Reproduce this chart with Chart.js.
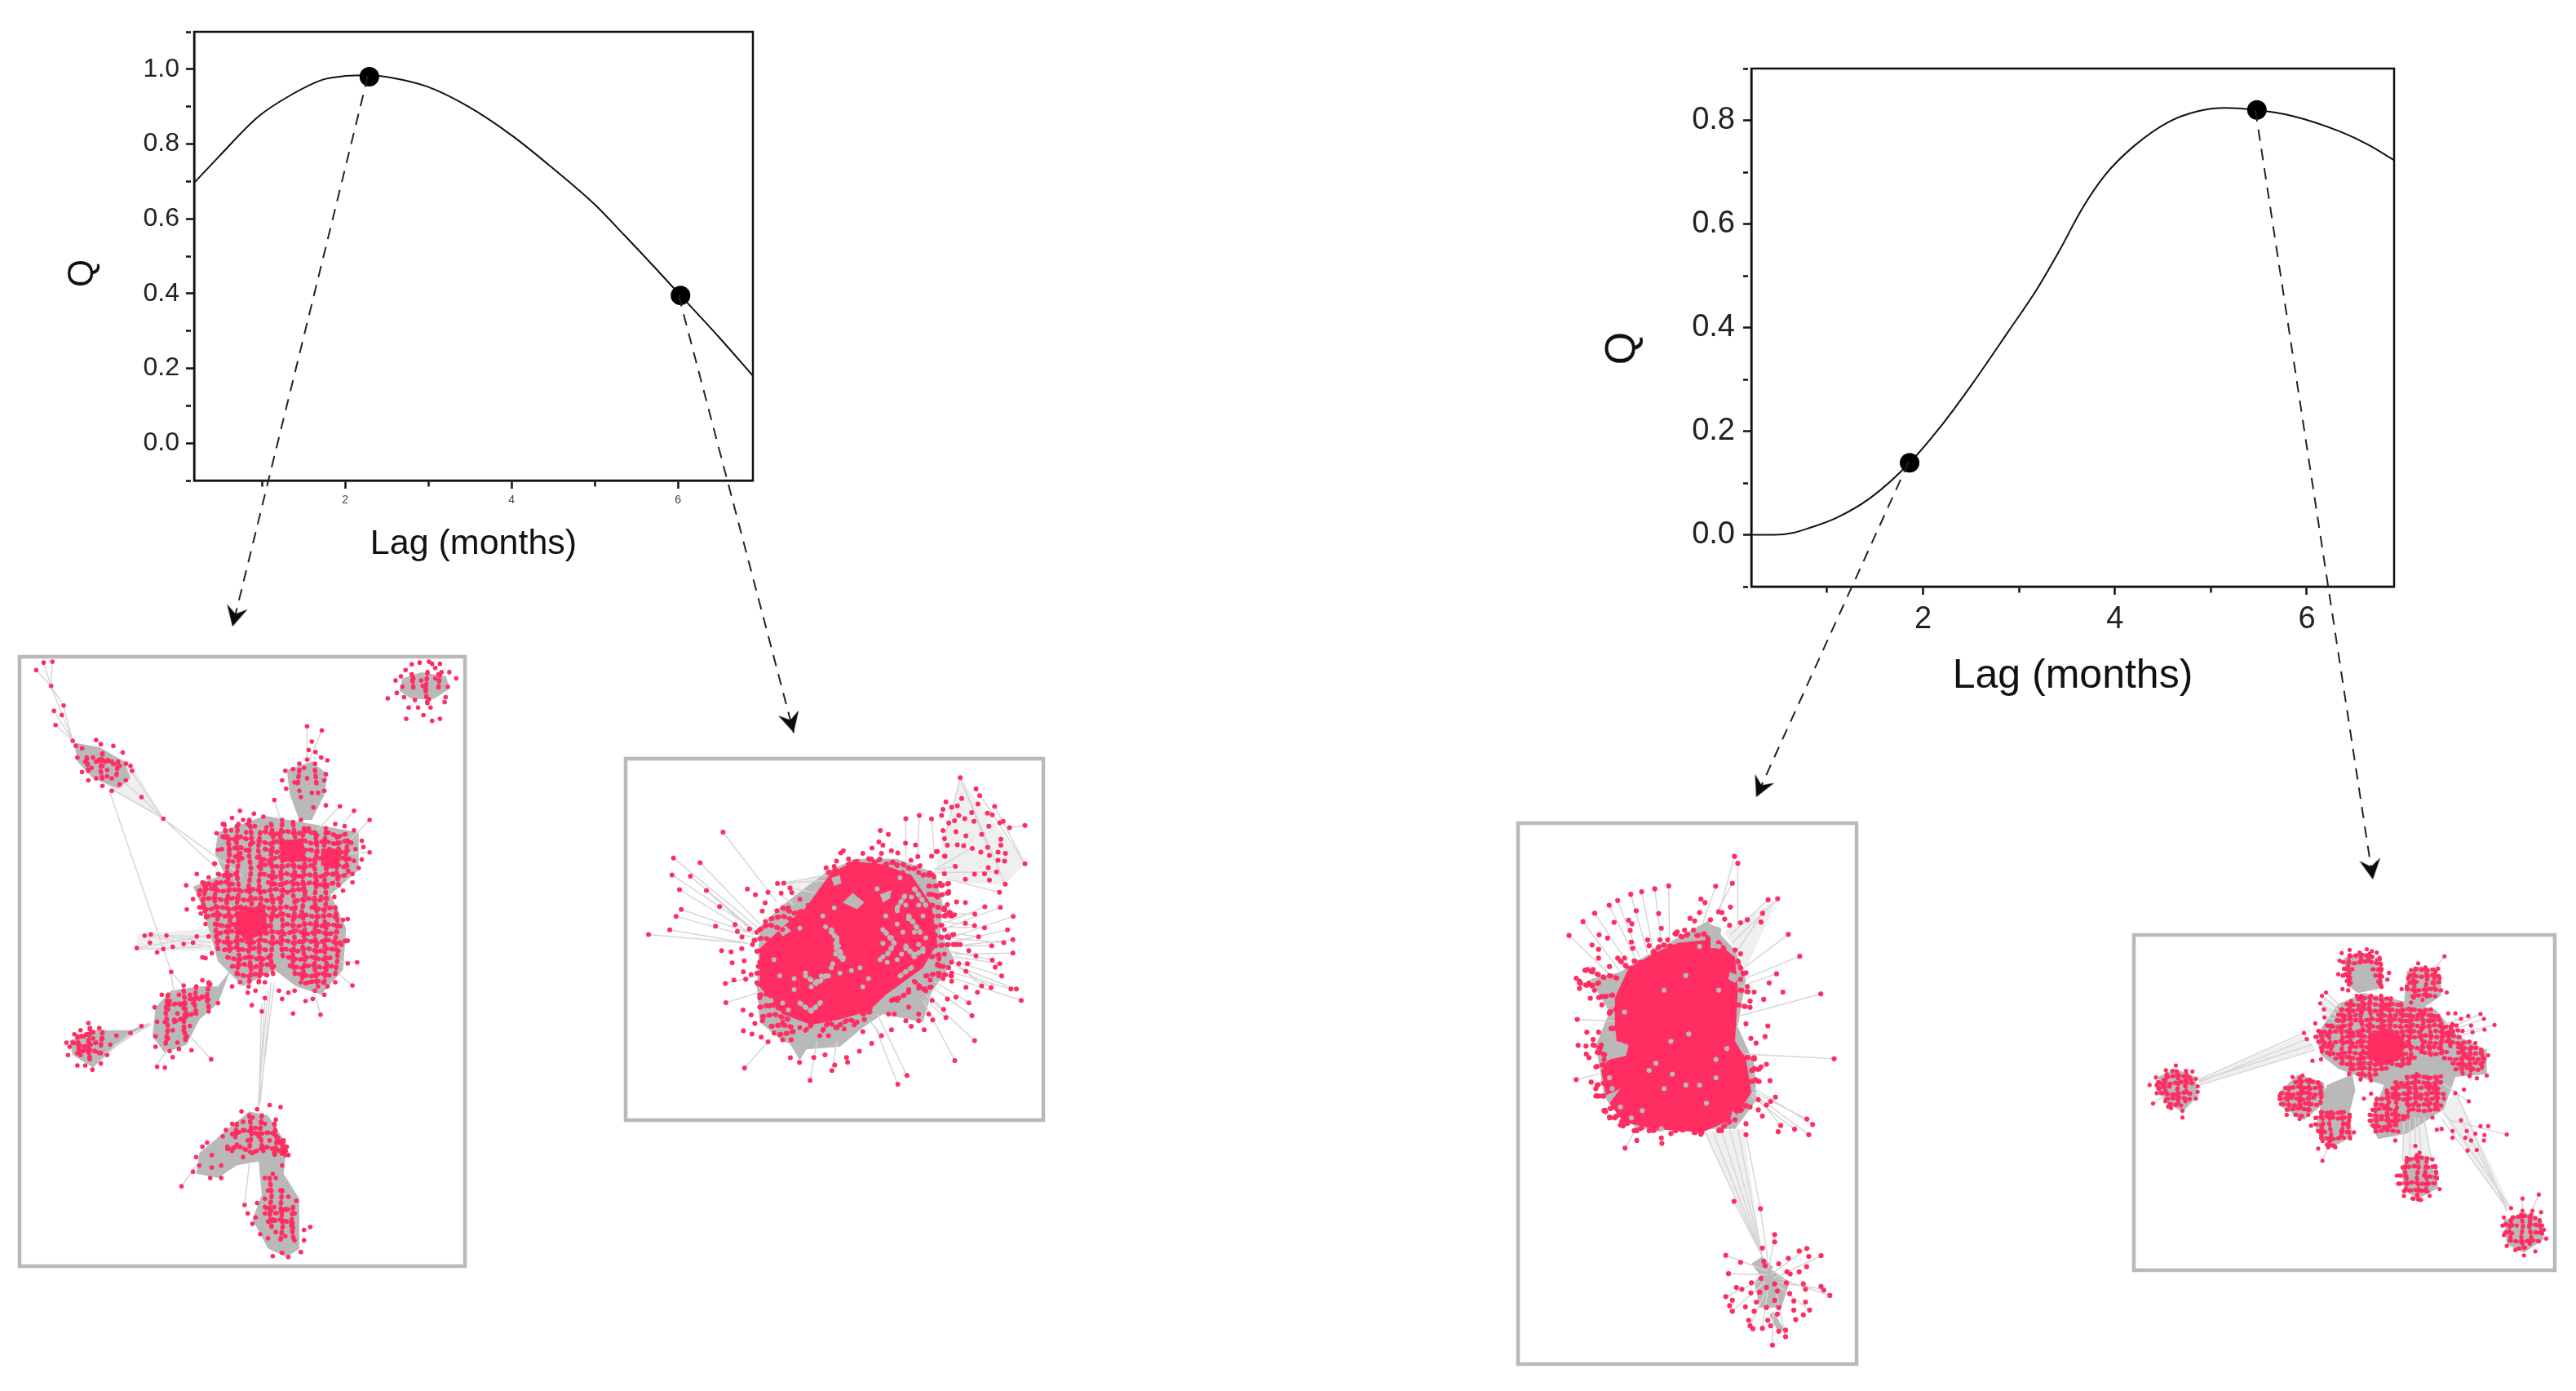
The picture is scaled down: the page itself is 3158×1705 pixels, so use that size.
<!DOCTYPE html>
<html>
<head>
<meta charset="utf-8">
<title>Q vs lag with networks</title>
<script src="https://cdn.jsdelivr.net/npm/chart.js@4"></script>
<style>
  html, body { margin: 0; background: #fff; }
  #page { position: relative; width: 3158px; height: 1705px; overflow: hidden; background: #fff; }
  canvas { position: absolute; }
  .net { filter: blur(0.7px); }
</style>
</head>
<body>
<div id="page"></div>
<script>
// Left panel curve
const lagLeft = [0.184,0.48,0.96,1.355,1.73,2.0,2.29,2.54,2.98,3.48,4.02,4.49,4.99,5.36,5.74,6.03,6.49,6.9];
const qLeft = [0.696,0.766,0.874,0.932,0.972,0.982,0.984,0.978,0.954,0.90,0.82,0.736,0.64,0.555,0.465,0.395,0.284,0.18];
const markLagLeft = [2.29,6.03];
const markQLeft = [0.98,0.395];

// Right panel curve
const lagRight = [0.21,0.45,0.65,0.796,1.09,1.45,1.86,2.23,2.52,2.88,3.18,3.42,3.66,3.9,4.19,4.55,4.85,5.15,5.48,5.86,6.34,6.64,6.91];
const qRight = [0,0,0.004,0.012,0.032,0.071,0.139,0.22,0.293,0.39,0.472,0.548,0.63,0.695,0.749,0.796,0.817,0.824,0.82,0.808,0.779,0.753,0.723];
const markLagRight = [1.86,5.48];
const markQRight = [0.139,0.82];

// Dashed arrows, from a marked point down to its network (page units)
const arrowFromX = [451,832,2340,2765];
const arrowFromY = [93,362,566,135];
const arrowToX = [285,973,2153,2909];
const arrowToY = [768,898,977,1078];

// Network 1 (left panel, lag 2.3) - x,y pairs
const net1Wash = [[440,715,680,700,680,755,440,752],[230,250,420,300,525,437,360,370]];
const net1Gray = [
  [1290,100,1350,85,1430,95,1440,125,1390,150,1320,150,1280,130],
  [240,255,320,265,400,300,420,340,380,365,300,340,250,300],
  [920,320,1000,300,1050,330,1040,380,1000,440,960,440,930,380],
  [700,470,850,430,1000,450,1150,470,1150,560,1060,620,1110,700,1100,800,1030,860,950,840,880,800,780,840,700,780,650,650,620,600,720,570,690,520],
  [500,890,550,850,640,840,700,840,740,800,700,880,640,920,600,980,530,1000,490,960],
  [225,970,300,945,420,945,490,925,420,955,350,1000,300,1035,235,1005],
  [640,1240,720,1190,800,1140,860,1150,920,1220,910,1290,960,1350,960,1470,920,1490,860,1470,810,1400,840,1340,830,1260,760,1270,700,1300,630,1290]
];
const net1Pink = [[770,650,850,650,860,710,790,730,750,700],[900,490,970,485,980,540,910,540],[1030,510,1090,510,1085,550,1030,550]];
const net1Gaps = [];
const net1Worms = [
  [850,468,880,476,915,466,950,474,985,466,1020,478],[1050,470,1085,480,1115,472],
  [715,480,745,488,775,480,800,490],[830,490,865,498,900,488,935,496,970,488,1005,498,1040,490,1075,498,1110,490,1135,498],
  [735,512,765,504,795,514],[850,510,885,518,920,508,955,518,990,510,1025,520],[1055,510,1090,518,1125,512],
  [755,528,790,534],[825,530,860,538,895,528,930,538,965,530,1000,538,1035,530,1070,540,1105,530,1135,538],
  [830,552,865,545,900,555,935,547,970,555,1005,548],[1045,555,1080,548,1115,555],
  [700,570,730,575,765,568],[845,570,880,578,915,568,950,576,985,570,1020,578,1055,568,1090,576,1120,570],
  [650,590,685,596,720,588,755,596],[860,590,895,596,930,588,965,596,1000,590,1040,598,1075,590],
  [640,610,675,604,710,612,745,606,780,612,815,606,850,612,885,606,920,614,955,606,990,614],
  [650,632,685,626,720,634,755,626,790,634,825,628,860,634,895,628],[950,634,985,628,1020,634,1050,628],
  [640,650,670,656,705,648,740,656,775,648,810,656,845,648,880,656,915,648,950,656],[1000,650,1035,656,1065,650],
  [665,672,700,666,735,674,770,666,805,674,840,666,875,674,910,666,945,674,980,668,1015,674,1050,668,1085,674],
  [690,690,725,696,760,688,795,696,830,688,865,696],[920,690,955,696,990,688,1025,696,1060,690,1095,696],
  [705,712,740,706,775,714,810,706,845,714,880,708,915,714,950,706,985,714,1020,708,1055,714,1085,708],
  [700,730,735,736,770,728,805,736,840,728,875,736,910,728,945,736,980,728,1015,736,1050,728,1085,736,1110,730],
  [720,752,755,746,790,754,825,746,860,754],[915,750,950,756,985,748,1020,756,1055,748,1090,756],
  [730,770,765,776,800,768,835,776,870,768],[925,770,960,776,995,768,1030,776,1065,770],
  [745,792,780,786,815,794,850,786,880,792],[930,790,965,796,1000,788,1035,796,1070,790],
  [760,810,795,816,830,808,865,814],[960,810,995,816,1030,808,1060,814],[980,832,1015,826,1045,832],
  [540,885,575,880,600,900],[610,870,650,865,680,875],[560,925,590,915,620,905],
  [235,975,270,985,310,975],[250,1000,285,990,325,1000],[260,960,300,950],
  [745,1195,790,1185,830,1195,870,1190,910,1215],[730,1230,770,1225,810,1240,850,1225,900,1235],[905,1220,925,1245],
  [850,1370,885,1385,925,1375],[860,1405,900,1400,940,1410],[310,300,345,295,375,310],
  [660,600,652,640,664,680],[695,590,688,630,700,670,692,710,700,750],[730,480,738,520,728,560,736,600,728,640,738,680,730,720,738,760],
  [765,450,758,490,768,530,760,570,768,610,758,650,768,690,760,730,768,770,760,810],[800,440,808,480,798,520,806,560,798,600,808,640,798,680,806,720,798,760,806,800,798,840],
  [835,470,828,510,838,550,830,590,838,630,828,670,838,710,830,750,838,790,830,830],[870,450,878,490,868,530,876,570,868,610,878,650,868,690,876,730,868,770,876,810],
  [905,450,898,490,908,530,900,570,908,610,898,650,908,690,900,730,908,770],[940,450,948,490,938,530,946,570,938,610,948,650,938,690,946,730,938,770,946,810],
  [975,460,968,500,978,540,970,580,978,620,968,660,978,700,970,740,978,780,970,820],[1010,470,1018,510,1008,550,1016,590,1008,630,1018,670,1008,710,1016,750,1008,790,1016,830],
  [1045,470,1038,510,1048,550,1040,590,1048,630,1038,670,1048,710,1040,750,1048,790,1040,830],[1080,480,1088,520,1078,560,1086,600],[1075,650,1083,690,1075,730,1083,770,1075,810],[1115,490,1108,530,1118,570],
  [540,860,532,900,540,940,532,980],[590,850,596,890,590,930,596,970],[630,840,624,880,632,910],[670,830,664,870,670,890],
  [250,960,256,1000],[290,940,284,980,290,1020],[330,950,324,990],
  [760,1170,754,1210],[800,1150,808,1190,800,1230],[840,1150,834,1190,842,1230],[880,1170,888,1210,880,1250],[910,1210,902,1250],
  [865,1300,872,1340,864,1380,872,1420],[905,1330,900,1370,908,1410,900,1450],[940,1370,934,1410,942,1450],
  [280,290,286,330],[330,280,324,320,332,350],[380,300,374,340],[960,320,954,360],[1010,320,1016,360],[1320,90,1326,130],[1370,85,1364,130,1372,170],[1410,90,1404,130],[720,450,728,490]
];
const net1Edges = [170,62,165,118,118,80,165,118,142,62,165,118,165,118,235,250,175,178,235,250,205,165,235,250,180,212,235,250,165,118,205,165,
  350,365,550,805,420,320,525,437,360,365,525,437,400,350,455,385,455,385,525,437,525,437,700,560,530,440,780,575,
  440,748,680,715,465,718,680,745,485,715,680,735,535,718,670,720,440,750,650,745,550,805,590,840,550,810,560,860,
  840,880,830,1130,880,830,830,1130,870,830,835,1120,850,870,830,1130,860,850,828,1125,610,960,678,1015,800,1265,785,1365,583,1320,640,1260,
  985,215,985,300,1032,225,990,300,880,392,900,440,1090,407,1010,470,1135,418,1100,450,1185,440,1120,490,1185,518,1120,520,
  1130,838,1070,800,1028,908,1010,860,1115,678,1040,690,1145,782,1080,780,360,985,490,930,340,1000,480,930,320,1020,420,950,500,1033,540,990];
const net1Nodes = [1320,66,1345,62,1375,60,1385,65,1410,65,1415,85,1440,85,1462,100,1435,120,1428,145,1425,157,1410,197,1385,202,1357,188,1302,197,1243,148,1272,135,1295,145,1268,105,1285,95,1300,80,1325,100,1350,105,1355,118,1365,125,1395,100,1405,90,1380,170,1340,170,1310,170,1375,150,1330,152,1290,120,1395,75,
  118,80,142,62,170,60,166,118,206,165,175,178,200,188,180,212,235,250,
  245,262,265,268,310,248,325,258,365,262,395,278,250,290,275,300,300,290,320,295,340,300,360,300,265,325,295,315,330,310,345,320,385,310,405,305,420,310,425,322,285,345,310,340,330,358,345,335,360,340,385,355,405,345,360,370,455,385,525,437,
  985,215,1032,225,1000,252,990,272,1012,277,1030,290,1050,297,985,295,960,305,915,322,940,318,905,345,918,365,945,350,975,315,1010,305,1045,330,1040,345,985,340,960,370,1000,375,1020,375,1040,370,965,385,1045,405,1005,410,880,392,1090,407,1135,418,1185,440,
  770,418,745,435,715,450,695,472,720,482,742,465,780,440,815,425,845,432,855,458,700,512,735,500,762,485,790,470,812,495,772,520,748,540,690,545,818,455,795,450,760,455,735,520,712,510,
  905,440,940,445,965,440,990,460,1045,460,1075,450,1105,455,1135,465,1160,490,1185,518,1165,505,1140,510,1160,535,1150,555,1130,570,1130,590,1100,610,1072,625,1048,600,1030,625,
  688,545,632,570,670,578,598,597,655,595,640,620,620,630,600,655,645,665,660,690,1100,680,1115,678,1115,730,1095,740,1145,782,1115,785,680,760,660,772,
  808,885,850,868,840,900,895,850,905,870,925,855,940,905,945,850,745,840,770,830,795,855,820,850,850,830,965,830,990,830,1020,840,1050,840,1075,830,1130,838,980,875,1003,870,1028,908,1040,860,1010,850,
  465,718,485,715,535,718,632,720,670,720,482,735,440,748,505,758,525,750,555,745,590,738,620,735,650,770,
  550,805,590,838,650,825,675,835,700,880,670,900,640,870,610,860,620,880,590,880,575,860,545,875,520,860,497,890,540,895,570,905,600,905,630,905,560,920,530,925,505,925,610,935,590,945,555,945,500,960,540,965,570,975,600,960,500,985,545,995,575,990,615,993,678,1015,530,1035,505,1033,555,1010,
  285,928,260,945,320,940,240,955,215,975,270,960,300,965,330,965,355,980,375,958,420,952,455,935,285,990,255,985,225,985,220,1005,260,1005,290,1010,320,1000,345,1005,250,1030,275,1030,298,1040,325,1025,
  775,1140,825,1135,865,1125,900,1130,885,1160,810,1155,780,1165,745,1170,725,1185,715,1200,750,1195,780,1185,820,1180,850,1170,730,1225,760,1220,795,1210,830,1200,865,1210,895,1215,920,1225,915,1245,880,1240,845,1235,810,1240,780,1250,745,1235,665,1215,650,1225,630,1250,680,1245,710,1270,680,1275,640,1270,620,1285,675,1300,710,1300,583,1320,905,1270,875,1290,850,1300,885,1300,860,1330,900,1330,925,1345,950,1355,945,1385,915,1375,880,1370,850,1350,825,1360,785,1365,795,1385,820,1395,850,1385,875,1400,905,1405,940,1420,975,1425,995,1418,810,1410,835,1435,860,1445,885,1430,915,1440,945,1450,975,1450,965,1478,925,1490,905,1480,875,1488];

// Network 2 (left panel, lag 6)
const net2Wash = [[1130,480,1220,132,1446,448,1377,523,1220,520],[600,520,750,490,740,570,640,570]];
const net2Gray = [[520,680,600,600,750,480,850,430,1000,430,1130,480,1160,600,1150,700,1200,800,1120,920,1090,1030,950,1000,880,1050,800,1120,680,1130,600,1100,520,1030,510,900],[620,1100,700,1100,660,1170]];
const net2Pink = [[520,760,600,680,680,610,770,480,850,440,950,450,1050,490,1120,600,1140,740,1090,830,960,930,900,990,800,1020,700,1040,600,1000,520,900]];
const net2Holes = [[810,590,845,555,885,590,860,615],[585,690,610,675,630,695,600,715],[770,500,800,490,805,520,780,530],[940,560,980,545,975,575,950,590]];
const net2Gaps = [770,700,790,720,800,770,810,800,770,830,760,860,720,880,680,850,640,910,700,985,950,690,980,720,950,790,1000,800,1030,760,1060,780,1090,770,1100,720,1060,700,1040,650,1000,620,960,640,930,540,880,900,840,840,800,850,870,830,1010,500,1050,570,750,680,740,640,780,610,660,685,570,800,560,950,600,960,900,870,
  785,740,795,750,800,790,775,815,1015,780,1045,770,1075,745,940,800,965,810,1000,670,1020,700,950,740,1090,640,1075,600,1030,600,735,860,700,900,640,870,590,860,620,985];
const net2GrayWorms = [[770,690,790,730,785,780],[800,770,820,810],[960,700,990,740,960,790],[1030,750,1060,790,1090,760],[1040,640,1080,700],[1000,610,1030,560],[750,860,720,890,680,860],[1060,540,1100,600],[1010,860,1050,830],[660,960,700,990,740,950]];
const net2Worms = [[760,480,790,470,815,490],[830,450,860,440,880,470],[900,430,925,445,950,420],[960,450,990,440,1010,470],[1020,450,1050,470,1080,455],[1090,490,1120,480,1135,510],[1110,530,1150,530,1180,520],[1110,560,1145,565,1180,555],
  [600,610,640,630,680,620],[560,650,600,640,650,660],[520,690,550,670,600,690],[500,730,530,720,570,730],[510,770,540,760,560,780],[520,810,550,800,570,820],[510,850,545,845,570,860],[515,890,545,880,570,900],[520,930,560,925,590,940],[520,975,560,965,600,985],[530,1010,570,1000,620,1020],[560,1045,600,1040,640,1050],[590,1075,620,1070,650,1060],
  [680,1060,700,1040],[740,1060,760,1030,790,1050],[800,1040,830,1020,860,1030],[880,1000,910,990,900,960],
  [1120,600,1150,610,1190,630],[1120,640,1160,640,1200,640],[1130,680,1170,670],[1130,710,1160,720,1205,705],[1130,750,1180,745,1215,745],[1120,790,1150,780,1140,820,1180,830],[1100,860,1140,850,1190,860],[1060,880,1090,910,1120,900],[980,950,1010,940,1040,920]];
const net2Edges = [392,332,580,590,219,427,510,680,312,444,520,670,214,489,500,690,278,494,510,700,240,543,500,710,334,546,500,700,246,616,480,700,228,641,500,720,206,691,480,740,132,708,480,740,402,958,520,920,400,888,510,860,467,1198,560,1090,696,1244,720,1100,772,1208,790,1100,1002,1258,920,1040,1034,1226,930,1000,945,1080,900,1020,1201,1171,1090,950,1270,1098,1100,930,1433,950,1200,870,1416,908,1220,830,1397,908,1200,850,1365,860,1210,810,1405,641,1160,730,1404,727,1200,750,1404,776,1200,780,1385,691,1170,740,1360,608,1180,680,1306,606,1180,660,
  1328,903,1200,820,1295,897,1190,800,1358,815,1200,790,1332,802,1190,770,1275,787,1180,770,1330,749,1180,750,1372,738,1170,720,1284,716,1170,700,1305,683,1170,680,1270,675,1160,660,1271,633,1150,630,1162,983,1110,930,1250,959,1130,880,1261,1006,1120,900,1170,1013,1100,950,
  1030,282,1030,440,1077,270,1072,420,1120,283,1130,420,1220,132,1165,356,1220,132,1316,388,1275,173,1446,448,1340,237,1446,448,1220,132,1377,523,1392,315,1446,307,1130,470,1260,390,1130,470,1203,458,1140,480,1346,478,1160,500,1357,553,604,519,750,490,582,521,750,510,626,537,740,560,590,560,640,600];
const net2Nodes = [392,332,219,427,312,444,214,489,278,494,240,543,334,546,380,605,246,616,228,641,366,677,206,691,132,708,434,671,442,697,484,688,458,717,387,767,420,772,457,760,424,812,466,805,463,845,430,875,471,872,400,888,402,958,462,985,490,1003,503,1035,463,1062,493,1074,525,1085,549,1102,467,1198,696,1244,627,1161,659,1178,709,1160,748,1150,782,1188,772,1208,823,1160,827,1177,868,1137,911,1108,945,1080,1002,1258,1034,1226,1201,1171,1270,1098,1094,1058,1049,1045,980,1058,1124,1022,1170,1013,1261,1006,1162,983,1250,959,1175,945,1122,950,1205,938,1280,920,1433,950,1397,908,1416,908,1328,903,1295,897,1240,902,1365,860,1358,815,1332,802,1342,828,1404,776,1275,787,1250,767,1330,749,1372,738,1404,727,1284,716,1385,691,1305,683,1270,675,1405,641,1360,608,1306,606,1271,633,1238,667,1238,590,1207,588,1175,598,1220,745,1245,815,1190,850,1240,843,
  477,541,505,562,549,553,539,592,529,622,582,521,604,519,626,537,632,554,595,556,660,578,689,601,716,575,752,463,780,458,803,408,812,400,788,438,880,410,912,390,941,326,969,340,936,368,950,380,1030,282,1077,270,1120,283,1029,372,1064,379,980,400,1002,408,1048,435,1072,422,1120,420,1140,403,1167,420,
  1220,132,1275,173,1288,198,1225,208,1170,221,1160,248,1190,240,1210,235,1282,228,1340,237,1155,270,1215,270,1260,260,1315,262,1332,268,1180,298,1200,290,1236,282,1268,292,1320,310,1358,297,1370,292,1392,315,1446,307,1160,326,1205,330,1240,345,1295,340,1362,358,1165,356,1175,380,1210,378,1232,382,1262,392,1316,388,1362,380,1137,403,1165,420,1292,405,1352,405,1378,410,1322,417,1352,435,1375,438,1446,448,1318,462,1203,458,1165,485,1305,485,1270,486,1347,478,1238,505,1322,508,1377,523,1357,553,
  580,620,620,610,660,625,690,610,540,660,510,700,495,745,540,760,530,800,515,825,490,855,510,885,520,940,555,970,530,1025,600,1030,570,1070,600,1095,630,1095,660,1050,730,1080,760,1080,785,1050,815,1055,850,1040,880,1065,885,1020,970,1000,990,1000,1030,1025,1040,975,1075,1000,1075,1025,1110,1000,1000,950,990,945,1040,910,1075,905,1100,915,1115,875,1145,860,1160,870,1190,880,1150,825,1190,810,1215,815,1165,780,1210,745,1180,720,1165,690,1170,635,1200,635,1165,610,1140,570,1180,550,1150,520,1120,560,1110,490,1075,480,1020,480,1000,450,960,470,920,480,860,440,830,430,910,430,945,410];

// Network 3 (right panel, lag 1.9)
const net3Wash = [[750,890,890,880,960,1230],[820,340,1016,249,900,440]];
const net3Gray = [[330,470,440,450,500,420,760,310,860,390,900,470,870,600,930,700,940,800,860,880,500,880,380,790,350,650,400,560],[980,1260,1060,1300,1030,1370,950,1370,930,1300],[920,1250,960,1230,1000,1260,960,1290],[1000,1380,1040,1430,1020,1440,985,1390]];
const net3Pink = [[420,520,470,440,560,400,650,370,780,360,860,410,870,500,860,640,900,690,920,780,860,850,740,890,560,880,450,860,390,800,370,720,430,660,420,600]];
const net3Holes = [[430,640,470,650,460,680,400,690,390,650],[770,320,810,330,800,385,770,385],[840,450,875,460,860,480,835,470],[850,830,880,850,860,880,840,860],[380,790,440,770,400,810]];
const net3Gaps = [625,640,545,720,630,730,455,560,680,460,600,500,730,380,800,500,690,620,790,690,790,740,730,760,600,770,755,810,400,740,410,770,440,820,480,850,570,700,680,760,520,830,830,660,800,380,590,880];
const net3Worms = [[640,345,670,355,700,340],[720,350,750,345,770,370],[800,370,830,395],[560,395,590,375,630,380],[490,420,520,425,560,410],[440,420,470,440,500,440],
  [310,445,340,450,380,465],[290,480,330,490,360,480],[400,460,440,470],[360,520,400,515,430,510],[400,560,430,550],[405,605,440,600],[340,650,370,660],[355,670,395,680],[350,710,400,700],[355,760,400,750],[350,790,395,790],[380,830,420,820],[400,850,450,840],[440,870,490,860],
  [490,885,530,875],[560,885,600,875],[640,885,680,880],[710,890,750,890],[800,885,840,860],[880,830,910,810],
  [870,420,890,455],[880,500,910,505],[870,540,900,545],[880,680,940,690],[920,720,960,715],[920,750,950,750]];
const net3Edges = [252,350,420,470,303,312,440,450,346,289,470,430,399,267,500,420,430,254,510,410,478,237,540,400,518,230,560,390,566,222,590,370,617,214,620,370,789,215,740,320,850,207,790,290,858,133,800,290,870,152,870,320,981,252,840,350,1016,249,850,370,961,289,870,390,1055,347,890,440,1097,407,890,470,1012,455,880,490,1174,510,880,570,1223,688,900,675,1123,853,930,780,1144,868,930,770,1078,881,920,790,1130,896,920,780,1027,871,950,800,282,580,420,585,278,745,360,730,457,933,490,890,
  750,890,960,1230,780,890,960,1230,810,885,960,1230,840,880,960,1230,870,880,960,1230,900,896,953,1099,953,1099,980,1240,856,1079,960,1230,
  826,1227,980,1270,836,1277,980,1280,1123,1208,990,1280,1175,1228,1000,1290,1207,1337,1020,1290,1184,1320,1010,1300,1005,1170,985,1260,997,1473,1000,1380,1045,1450,1010,1330,850,1380,970,1300,915,1420,970,1330,1133,1377,1000,1300,960,1427,980,1320,826,1340,970,1290];
const net3Nodes = [858,133,870,152,850,207,789,215,735,250,750,260,843,272,981,252,1016,249,961,289,617,214,566,222,518,230,478,237,430,254,399,267,346,289,303,312,252,350,498,282,580,290,417,314,470,308,482,318,590,330,476,336,362,348,393,357,336,376,480,368,360,388,485,385,540,362,545,378,585,362,613,362,648,340,675,335,695,303,712,310,730,287,770,307,800,285,812,287,822,305,840,322,880,315,905,307,955,313,708,335,
  1055,347,1097,407,1012,455,985,480,1035,505,1174,510,965,525,930,505,915,530,915,547,905,490,900,452,880,470,880,400,860,390,980,598,900,592,970,627,918,632,937,645,1223,688,930,685,975,703,955,710,930,715,988,748,935,745,1008,793,990,805,975,815,945,800,945,828,915,820,960,845,1123,853,1144,868,1078,881,1130,896,1027,871,1018,888,900,866,900,896,
  360,412,430,412,455,412,400,435,320,443,340,443,278,467,290,475,325,480,290,495,345,500,330,522,370,517,372,540,400,563,282,580,430,578,415,605,317,615,360,615,340,635,285,651,314,653,370,650,315,675,325,685,365,670,380,690,278,745,333,752,350,770,360,790,385,833,400,848,420,850,445,860,450,872,
  500,885,545,885,500,912,457,933,590,905,592,920,625,893,670,883,735,895,810,885,860,855,720,880,
  856,1079,953,1099,1005,1170,1005,1190,960,1207,826,1227,880,1246,965,1243,970,1255,1020,1250,1055,1235,1095,1215,1123,1208,1130,1230,1175,1228,1122,1258,1095,1272,1050,1272,1062,1278,836,1277,955,1290,920,1302,865,1315,885,1320,918,1330,950,1328,975,1315,1005,1305,1015,1325,1048,1302,1060,1332,1110,1305,1118,1320,1175,1312,1185,1322,1207,1337,826,1340,850,1350,840,1365,850,1380,898,1368,938,1355,975,1370,1005,1350,1020,1370,1075,1352,1118,1355,1075,1377,1133,1377,1110,1390,1082,1403,930,1380,1015,1388,910,1405,915,1420,925,1428,980,1405,990,1420,960,1427,1020,1435,1045,1432,1045,1450,997,1473];

// Network 4 (right panel, lag 5.5)
const net4Wash = [[270,580,650,410,680,470,275,600],[1120,700,1170,620,1365,1055,1350,1065],[700,260,770,320,760,370,700,340],[990,720,1060,720,1090,880,985,880]];
const net4Gray = [[130,570,190,540,260,570,270,640,215,700,150,660],[560,620,620,560,710,590,720,660,640,730,560,680],[720,600,810,560,820,620,800,700,810,790,740,830,680,770,700,670],[780,130,860,110,910,170,920,240,830,260,790,230],[1000,180,1050,160,1120,200,1120,270,1050,320,990,300],[980,900,1040,850,1100,920,1110,980,1040,1020,990,990],[1340,1100,1410,1070,1470,1100,1480,1170,1410,1220,1350,1190],
  [680,420,760,300,850,260,950,280,1100,320,1180,420,1280,470,1280,560,1170,570,1130,690,1000,780,900,800,870,740,920,600,860,580,760,540,700,490]];
const net4Pink = [[880,400,960,400,1000,450,970,510,900,530,860,480]];
const net4Gaps = [];
const net4Worms = [
  [830,282,870,276,910,284,945,278],[790,300,830,306,870,298,910,306,950,300,985,306],
  [770,320,810,326,850,318,890,326,930,318,970,326,1010,318,1050,326,1085,320],[760,340,800,346,840,338],[900,340,940,346,980,338,1020,346,1060,338,1100,346],
  [760,362,800,356,840,364,880,356,920,364,960,356,1000,364,1040,356,1080,364,1115,358],
  [720,380,760,386,800,378],[860,380,900,386,940,378,980,386,1020,378,1060,386,1100,378,1140,386,1175,380],
  [690,400,730,406,770,398,810,406,850,398,890,406,930,398,970,406,1010,398,1050,406],[1100,400,1140,406,1180,398],
  [680,422,720,416],[790,422,830,416,870,424,910,416,950,424,990,416,1030,424,1070,416,1110,424,1150,416,1190,424],
  [690,440,730,446,770,438,810,446,850,438,890,446,930,438,970,446,1010,438],[1060,440,1100,446,1140,438,1180,446,1220,440],
  [700,462,740,456],[800,462,840,456,880,464,920,456,960,464,1000,456,1040,464,1080,456,1120,464],[1180,460,1220,466,1255,460],
  [720,480,760,486,800,478,840,486,880,478,920,486,960,478,1000,486],[1060,480,1100,486,1140,478],[1180,480,1220,486,1270,480],
  [750,502,790,496,830,504,870,496,910,504,950,496,990,504,1030,498],[1130,500,1170,506,1210,498,1250,506,1280,500],
  [770,520,810,526,850,518,890,526,930,518,970,526,1010,520],[1160,520,1200,526,1240,518,1275,526],
  [810,542,850,536,890,544,930,538],[1170,542,1210,536,1250,544],[830,560,870,566,900,558],
  [1000,572,1040,566,1080,574,1120,568],[960,590,1000,596,1040,588,1080,596,1120,590],[950,612,990,606,1030,614,1070,606,1110,614],
  [930,630,970,636,1010,628,1050,636,1090,628,1130,634],[910,652,950,646,990,654,1030,646,1070,654,1110,648],
  [890,670,930,676],[1000,670,1040,676,1080,668,1120,676],[880,692,920,686,960,694],[1020,690,1060,696,1100,690],
  [870,710,910,716,950,708,990,716],[870,732,910,726,950,734,990,726],[880,750,920,756,960,748],[890,772,930,766,970,772],
  [610,590,650,584,690,592],[580,612,620,606,660,614,700,608],[560,630,600,636,640,628,680,636,710,630],[555,652,595,646,635,654,675,646],[565,670,605,676,645,668,685,674],[580,692,620,686,660,692],[610,710,640,716],
  [700,700,740,706,780,700],[680,722,720,716,760,724,800,718],[680,745,710,750],[790,745,805,750],[690,770,720,775],[770,770,800,775],[700,795,740,800,780,795],[720,820,750,825],
  [160,570,200,564,240,572],[130,590,170,596,210,588,250,594],[130,612,170,606],[140,630,180,636,220,628,255,634],[160,652,200,646,240,652],[170,670,210,676],
  [800,125,840,118,880,126],[775,145,815,150,860,142,900,150],[790,170,810,172],[880,172,915,176],[775,195,800,200],[890,195,920,200],[800,222,815,225],[900,218,915,222],
  [1030,170,1070,176,1110,170],[1010,195,1050,200,1090,194,1125,200],[1010,222,1040,218],[1090,222,1125,218],[1000,245,1040,250,1080,244,1120,250],[1020,272,1060,266,1100,272],
  [1010,875,1050,868,1090,875],[985,905,1030,900],[1070,905,1105,900],[975,935,1010,940],[1060,935,1105,942],[975,965,1020,960,1060,966,1110,962],[990,992,1030,988,1075,994],[1020,1020,1055,1025],
  [1370,1090,1410,1084,1450,1092],[1345,1115,1385,1120],[1430,1115,1475,1120],[1345,1145,1380,1150],[1450,1145,1482,1150],[1360,1175,1400,1180,1440,1174,1475,1180],[1390,1205,1425,1200],
  [700,410,708,450,700,490],[735,380,728,420,736,460,728,500],[770,320,778,360,770,400,778,440,770,480,778,520],[805,290,798,330,806,370,798,410,806,450,798,490,806,530,798,560],
  [840,270,848,310,838,350,846,390,838,430,848,470,838,510,846,550,838,580],[875,270,868,310,876,350,868,390,876,430,868,470,876,510,868,550,876,590],[910,270,918,310,908,350,916,390,908,430,916,470,908,510,916,550],
  [945,280,938,320,946,360,938,400,946,440,938,480,946,520],[980,300,988,340,978,380,986,420,978,460,986,500,978,540],[1015,320,1008,360,1016,400,1008,440,1016,480,1008,520],[1050,330,1058,370,1048,410,1056,450,1048,490],
  [1085,340,1078,380,1086,420,1078,460,1086,500],[1120,370,1128,410,1118,450,1126,490],[1155,390,1148,430,1155,470],[1190,450,1198,490,1190,530,1198,570],[1225,460,1218,500,1226,540,1218,575],[1260,470,1268,510,1260,550],
  [930,620,938,660,930,700,938,740,930,780],[965,600,958,640,966,680,958,720,966,760],[1000,570,1008,610,1000,650,1008,690,1000,730],[1035,560,1028,600,1036,640,1028,680],[1070,570,1078,610,1070,650,1078,690],[1105,580,1098,620,1106,660,1098,700],[895,650,888,690,896,730,888,770],
  [590,610,582,650,590,690],[625,575,632,615,624,655,632,695],[660,585,654,625,660,665,654,705],[695,600,702,640,695,680],
  [700,700,708,740,700,780,708,820],[735,700,728,740,736,780,728,825],[770,700,778,740,770,790],[800,710,795,760,802,800],
  [160,560,152,600,160,640],[195,550,202,590,195,630,202,670],[230,560,224,600,232,640],[130,590,136,625],
  [800,120,794,160,802,200,796,240],[835,110,842,140],[870,115,864,150],[905,130,912,170,905,210,912,240],
  [1030,170,1022,210,1030,250,1022,290],[1065,165,1072,205,1065,245,1072,285],[1100,180,1094,220,1100,260],
  [1000,880,994,920,1002,960,994,1000],[1035,860,1042,900,1035,940,1042,980,1035,1020],[1070,880,1064,920,1072,960,1064,1000],[1100,900,1106,950],
  [1365,1100,1358,1140,1366,1180],[1400,1080,1407,1120,1400,1160,1407,1200],[1435,1080,1428,1120,1436,1160,1428,1200],[1465,1100,1470,1150]
];
const net4Edges = [1132,124,1090,180,270,580,640,407,275,590,650,430,275,600,680,470,272,585,670,450,717,258,770,310,703,270,770,330,697,298,760,340,710,320,770,350,712,350,770,360,1215,345,1120,380,1258,337,1130,400,1270,355,1150,400,1307,378,1170,410,1272,395,1170,420,1215,660,1120,590,1350,783,1150,730,1365,1055,1130,700,1350,1065,1170,620,1340,1040,1120,720,1350,1050,1190,730,705,880,725,830,112,668,150,640,1462,1005,1430,1080,1405,1020,1405,1070,
  990,730,985,880,1010,730,1010,860,1040,720,1050,840,1060,720,1085,870,1030,720,1030,830];
const net4Nodes = [192,528,157,545,180,548,227,548,250,550,122,572,150,580,245,580,262,577,100,600,125,600,145,600,268,605,125,630,268,625,112,668,155,660,175,685,200,665,225,660,262,650,215,695,215,720,165,680,
  800,100,772,112,860,98,878,105,895,110,765,140,895,138,780,170,905,170,938,185,760,190,785,190,905,195,932,210,790,215,775,245,795,250,825,270,905,225,
  1132,124,1040,150,1015,175,1065,170,1100,180,1005,205,1115,205,1000,235,982,245,1015,295,1055,285,1140,258,
  717,258,703,270,697,298,710,320,712,350,755,360,680,372,640,407,650,430,670,510,700,505,
  1110,345,1145,335,1170,335,1215,345,1190,355,1258,337,1270,355,1160,375,1225,380,1272,395,1307,378,1230,405,1195,400,
  1240,445,1285,490,1280,565,1245,575,
  1170,630,1200,617,1217,660,1130,650,1110,690,1090,720,960,805,850,650,875,632,
  1105,765,1122,762,1160,795,1190,730,1210,770,1240,780,1258,752,1285,752,1350,783,1272,785,1270,805,1205,795,1225,805,1245,840,1213,842,1160,770,
  600,570,635,565,660,580,690,590,575,610,555,640,560,670,580,710,625,725,655,710,
  815,775,665,750,690,835,725,830,750,830,705,880,
  1030,825,1045,850,1000,870,965,935,970,965,990,1010,1050,1025,1080,1010,1115,985,
  1462,1005,1405,1020,1365,1055,1405,1065,1440,1065,1470,1070,1340,1090,1335,1120,1480,1135,1340,1155,1488,1168,1350,1195,1380,1210,1410,1230,1450,1215];

const PINK = '#ff2d62';
const GRAY = '#b9b9b9';

Chart.defaults.font.family = '"Liberation Sans", Arial, sans-serif';
Chart.defaults.animation = false;
Chart.defaults.plugins.legend.display = false;
Chart.defaults.plugins.tooltip.enabled = false;

// box round the plot area
Chart.register({
  id: 'frame',
  afterDatasetsDraw(chart, args, opts) {
    if (!opts.color) return;
    const a = chart.chartArea;
    const ctx = chart.ctx;
    ctx.save();
    ctx.strokeStyle = opts.color;
    ctx.lineWidth = opts.width;
    ctx.strokeRect(a.left, a.top, a.right - a.left, a.bottom - a.top);
    ctx.restore();
  }
});

// the rotated Q sits lower than an axis title would
Chart.register({
  id: 'sideLabel',
  afterDraw(chart, args, opts) {
    if (!opts.text) return;
    const ctx = chart.ctx;
    ctx.save();
    ctx.translate(opts.x, opts.y);
    ctx.rotate(-Math.PI / 2);
    ctx.font = opts.size + 'px "Liberation Sans", Arial, sans-serif';
    ctx.fillStyle = '#111';
    ctx.textAlign = 'center';
    ctx.textBaseline = 'middle';
    ctx.fillText(opts.text, 0, 0);
    ctx.restore();
  }
});

function addCanvas(left, top, width, height, cls) {
  const c = document.createElement('canvas');
  c.width = width;
  c.height = height;
  c.style.left = left + 'px';
  c.style.top = top + 'px';
  if (cls) c.className = cls;
  document.getElementById('page').appendChild(c);
  return c;
}

function zip(xs, ys) {
  return xs.map((x, i) => ({ x: x, y: ys[i] }));
}

function pairs(flat) {
  const out = [];
  for (let i = 0; i < flat.length; i += 2) out.push({ x: flat[i], y: flat[i + 1] });
  return out;
}

function edgeLine(flat) {
  const out = [];
  for (let i = 0; i < flat.length; i += 4) {
    out.push({ x: flat[i], y: flat[i + 1] }, { x: flat[i + 2], y: flat[i + 3] }, { x: NaN, y: NaN });
  }
  return out;
}

// several polylines as one dataset, NaN breaks them apart
function wormLine(list) {
  const out = [];
  list.forEach(w => {
    out.push(...pairs(w), { x: NaN, y: NaN });
  });
  return out;
}

function curveChart(cfg) {
  const c = addCanvas(cfg.left, cfg.top, cfg.width, cfg.height);
  new Chart(c, {
    type: 'line',
    data: {
      datasets: [
        { data: zip(cfg.markX, cfg.markY), showLine: false, pointRadius: 12, pointBackgroundColor: '#000', pointBorderWidth: 0 },
        { data: zip(cfg.lag, cfg.q), borderColor: '#111', borderWidth: 2, pointRadius: 0, cubicInterpolationMode: 'monotone' }
      ]
    },
    options: {
      responsive: false,
      layout: { autoPadding: false, padding: { top: cfg.padTop, right: cfg.padRight } },
      plugins: {
        frame: { color: '#111', width: 2.5 },
        sideLabel: { text: 'Q', x: cfg.qX - cfg.left, y: cfg.qY - cfg.top, size: cfg.qSize }
      },
      scales: {
        x: {
          type: 'linear', min: cfg.xMin, max: cfg.xMax,
          afterFit: s => { s.height = cfg.xAxisHeight; s.paddingLeft = 0; s.paddingRight = 0; },
          border: { color: '#111', width: 2.5 },
          grid: { drawOnChartArea: false, tickLength: cfg.tickLen, tickColor: '#111', tickWidth: 2.5,
            tickBorderDash: ctx => (ctx.tick && ctx.tick.value % 2 !== 0 ? [cfg.tickLen * 0.6, 99] : []) },
          ticks: { stepSize: 1, includeBounds: false, maxRotation: 0, autoSkip: false, color: cfg.xTickColor, padding: cfg.xTickPad,
            font: { size: cfg.xTickSize },
            callback: v => (v % 2 === 0 ? String(v) : '') },
          title: { display: true, text: 'Lag (months)', color: '#111', font: { size: cfg.titleSize }, padding: { top: 0, bottom: cfg.titlePad } }
        },
        y: {
          min: cfg.yMin, max: cfg.yMax,
          afterFit: s => { s.width = cfg.yAxisWidth; s.paddingTop = 0; s.paddingBottom = 0; },
          border: { color: '#111', width: 2.5 },
          grid: { drawOnChartArea: false, tickLength: cfg.tickLen, tickColor: '#111', tickWidth: 2.5,
            tickBorderDash: ctx => (ctx.tick && Math.round(ctx.tick.value * 10) % 2 !== 0 ? [cfg.tickLen * 0.6, 99] : []) },
          ticks: { stepSize: 0.1, includeBounds: false, autoSkip: false, color: '#222', padding: cfg.yTickPad,
            font: { size: cfg.yTickSize },
            callback: v => (Math.round(v * 10) % 2 === 0 ? v.toFixed(1) : '') }
        }
      }
    }
  });
}

function area(flat, color) {
  return { data: pairs(flat), fill: 'shape', backgroundColor: color, borderWidth: 0, pointRadius: 0 };
}

function dotted(list, color, radius) {
  return { data: wormLine(list), borderColor: color, borderWidth: radius * 2, borderDash: [1.5, radius * 2.1], borderCapStyle: 'round', borderJoinStyle: 'round', pointRadius: 0, spanGaps: false };
}

function networkChart(box, range, net, radius) {
  const pad = 3;
  const c = addCanvas(box.left - pad, box.top - pad, box.right - box.left + pad * 2, box.bottom - box.top + pad * 2, 'net');
  const layers = [];
  net.wash.forEach(p => layers.push(area(p, '#efefef')));
  net.gray.forEach(p => layers.push(area(p, GRAY)));
  layers.push({ data: edgeLine(net.edges), borderColor: '#d6d6d6', borderWidth: 1.5, pointRadius: 0, spanGaps: false });
  net.pink.forEach(p => layers.push(area(p, PINK)));
  (net.holes || []).forEach(p => layers.push(area(p, GRAY)));
  layers.push(dotted(net.worms, PINK, radius));
  if (net.grayWorms) layers.push(dotted(net.grayWorms, GRAY, radius));
  layers.push({ data: pairs(net.gaps), showLine: false, pointRadius: radius, pointBackgroundColor: GRAY, pointBorderWidth: 0 });
  layers.push({ data: pairs(net.nodes), showLine: false, pointRadius: radius, pointBackgroundColor: PINK, pointBorderWidth: 0 });
  new Chart(c, {
    type: 'line',
    data: { datasets: layers.reverse() },
    options: {
      responsive: false,
      layout: { autoPadding: false, padding: pad },
      plugins: { frame: { color: GRAY, width: 4.5 } },
      scales: {
        x: { type: 'linear', display: false, min: range.x0, max: range.x1 },
        y: { display: false, reverse: true, min: range.y0, max: range.y1 }
      }
    }
  });
}

// head of the dashed arrows, tip at the centre of the little canvas
function arrowHead() {
  const s = document.createElement('canvas');
  s.width = 60;
  s.height = 60;
  const g = s.getContext('2d');
  g.fillStyle = '#0a0a0a';
  g.beginPath();
  g.moveTo(30, 30);
  g.lineTo(17, 5);
  g.lineTo(30, 14);
  g.lineTo(43, 5);
  g.closePath();
  g.fill();
  return s;
}

curveChart({
  left: 60, top: 30, width: 868, height: 670, padTop: 9, padRight: 5,
  lag: lagLeft, q: qLeft, markX: markLagLeft, markY: markQLeft,
  xMin: 0.184, xMax: 6.9, yMin: -0.1, yMax: 1.1,
  xAxisHeight: 111, yAxisWidth: 178, tickLen: 10, xTickPad: 6, yTickPad: 8,
  xTickSize: 14, yTickSize: 32, xTickColor: '#444', titleSize: 43, titlePad: 7,
  qX: 102, qY: 335, qSize: 44
});

curveChart({
  left: 1960, top: 70, width: 980, height: 800, padTop: 14, padRight: 5,
  lag: lagRight, q: qRight, markX: markLagRight, markY: markQRight,
  xMin: 0.21, xMax: 6.91, yMin: -0.1, yMax: 0.9,
  xAxisHeight: 151, yAxisWidth: 187, tickLen: 10, xTickPad: 8, yTickPad: 10,
  xTickSize: 38, yTickSize: 38, xTickColor: '#222', titleSize: 50, titlePad: 11,
  qX: 1990, qY: 427, qSize: 52
});

networkChart({ left: 24, top: 805, right: 570, bottom: 1552 }, { x0: 65, x1: 1490, y0: 48, y1: 1512 },
  { wash: net1Wash, gray: net1Gray, pink: net1Pink, gaps: net1Gaps, worms: net1Worms, edges: net1Edges, nodes: net1Nodes }, 2.8);
networkChart({ left: 767, top: 930, right: 1279, bottom: 1373 }, { x0: 52, x1: 1510, y0: 62, y1: 1390 },
  { wash: net2Wash, gray: net2Gray, pink: net2Pink, holes: net2Holes, gaps: net2Gaps, worms: net2Worms, grayWorms: net2GrayWorms, edges: net2Edges, nodes: net2Nodes }, 3);
networkChart({ left: 1861, top: 1009, right: 2276, bottom: 1672 }, { x0: 65, x1: 1305, y0: 42, y1: 1525 },
  { wash: net3Wash, gray: net3Gray, pink: net3Pink, holes: net3Holes, gaps: net3Gaps, worms: net3Worms, edges: net3Edges, nodes: net3Nodes }, 3.1);
networkChart({ left: 2616, top: 1146, right: 3132, bottom: 1557 }, { x0: 45, x1: 1518, y0: 45, y1: 1285 },
  { wash: net4Wash, gray: net4Gray, pink: net4Pink, gaps: net4Gaps, worms: net4Worms, edges: net4Edges, nodes: net4Nodes }, 2.6);

// full page layer for the dashed arrows
const head = arrowHead();
const arrowSets = arrowFromX.map((x, i) => {
  const dx = arrowToX[i] - x;
  const dy = arrowToY[i] - arrowFromY[i];
  return {
    data: [{ x: x, y: arrowFromY[i] }, { x: arrowToX[i], y: arrowToY[i] }],
    borderColor: '#222',
    borderWidth: 2,
    borderDash: [14, 10],
    pointRadius: [0, 30],
    pointStyle: head,
    pointRotation: Math.atan2(-dx, dy) * 180 / Math.PI
  };
});
new Chart(addCanvas(0, 0, 3158, 1705), {
  type: 'line',
  data: { datasets: arrowSets },
  options: {
    responsive: false,
    layout: { autoPadding: false, padding: 0 },
    scales: {
      x: { type: 'linear', display: false, min: 0, max: 3158 },
      y: { display: false, reverse: true, min: 0, max: 1705 }
    }
  }
});
</script>
</body>
</html>
